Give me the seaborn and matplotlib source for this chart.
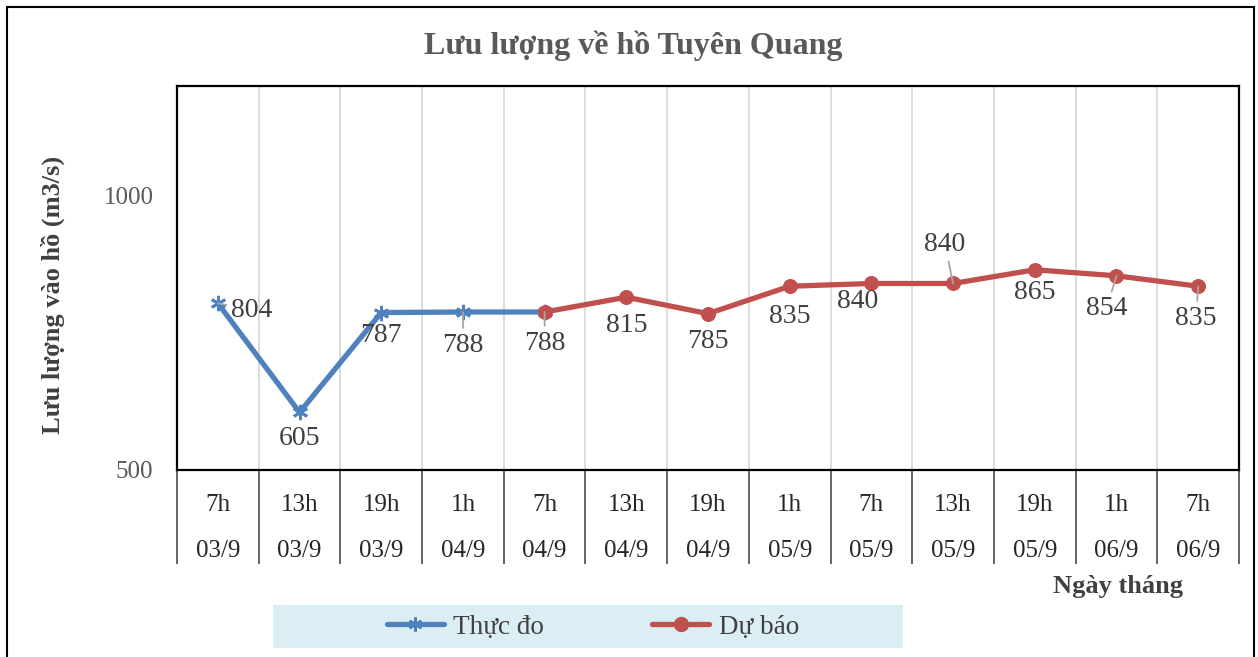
import matplotlib
matplotlib.use("Agg")
import matplotlib.pyplot as plt
import seaborn as sns
import numpy as np
import pandas as pd
from matplotlib.patches import Rectangle
from matplotlib.lines import Line2D

# dane
gio = ["7h", "13h", "19h", "1h", "7h", "13h", "19h", "1h", "7h", "13h", "19h", "1h", "7h"]
ngay = ["03/9", "03/9", "03/9", "04/9", "04/9", "04/9", "04/9", "05/9", "05/9", "05/9", "05/9", "06/9", "06/9"]
thuc_do = [804, 605, 787, 788, 788]
du_bao = [788, 815, 785, 835, 840, 840, 865, 854, 835]
du_bao_start = 4

# przesunięcia etykiet (piksele) i czy rysować linię odniesienia
etyk_dx = [34, 0, 0, 0, 0, 0, 0, 0, -14, -8, 0, -10, -2]
etyk_dy = [-7, -26, -23, -33, -31, -28, -28, -30, -18, 39, -23, -33, -32]
linia = [True, False, False, True, True, False, False, False, False, True, False, True, True]

df_td = pd.DataFrame({"x": np.arange(len(thuc_do)), "y": thuc_do})
df_db = pd.DataFrame({"x": np.arange(du_bao_start, du_bao_start + len(du_bao)), "y": du_bao})

sns.set_style("white")
plt.rcParams["font.family"] = ["Liberation Serif", "DejaVu Serif"]

fig = plt.figure(figsize=(12.58, 6.57), dpi=100)
ax = fig.add_axes([177 / 1258, 1 - 470 / 657, (1239 - 177) / 1258, (470 - 86) / 657])

niebieski = "#4F81BD"
czerwony = "#C0504D"

sns.lineplot(data=df_td, x="x", y="y", ax=ax, color=niebieski, lw=3.8,
             marker=(6, 2, 0), markersize=11, markeredgewidth=2,
             markeredgecolor=niebieski, zorder=3)
sns.lineplot(data=df_db, x="x", y="y", ax=ax, color=czerwony, lw=3.8,
             marker="o", markersize=10, markeredgecolor=czerwony, zorder=4)

# etykiety danych
wszystkie = thuc_do[:du_bao_start] + du_bao
for i, v in enumerate(wszystkie):
    props = dict(arrowstyle="-", color="#A6A6A6", lw=1.3, shrinkA=1, shrinkB=0) if linia[i] else None
    ax.annotate(str(v), xy=(i, v), xytext=(etyk_dx[i], etyk_dy[i]), textcoords="offset pixels",
                ha="center", va="center", fontsize=20, color="#404040",
                arrowprops=props, zorder=5)

n = len(gio)
ax.set_xlim(-0.5, n - 0.5)
ax.set_ylim(500, 1200)
ax.set_yticks([500, 1000])
ax.set_yticklabels(["500", "1000"], fontsize=18, color="#595959")
ax.tick_params(axis="y", length=0, pad=17)

ax.set_xticks(np.arange(n))
ax.set_xticklabels([g + "\n" + d for g, d in zip(gio, ngay)], fontsize=18,
                   color="#262626", linespacing=2.45)
ax.set_xticks(np.arange(-0.5, n, 1), minor=True)
ax.tick_params(axis="x", which="major", bottom=True, length=0, pad=17)
ax.tick_params(axis="x", which="minor", bottom=True, length=68, width=1.3,
               color="#595959", direction="out")
ax.grid(which="minor", axis="x", color="#D9D9D9", lw=1.3)
ax.grid(which="major", axis="both", visible=False)

for s in ax.spines.values():
    s.set_color("black")
    s.set_linewidth(1.6)

ax.set_xlabel("")
ax.set_ylabel("Lưu lượng vào hồ (m3/s)", fontsize=19, fontweight="bold", color="#404040")
ax.yaxis.set_label_coords(-112 / (1239 - 177), 0.5 - 17 / 384)

fig.text(633 / 1258, 1 - 46 / 657, "Lưu lượng về hồ Tuyên Quang", ha="center", va="center",
         fontsize=23, fontweight="bold", color="#595959")
fig.text(1118 / 1258, 1 - 586 / 657, "Ngày tháng", ha="center", va="center",
         fontsize=19, fontweight="bold", color="#404040")

# ramka całego rysunku
fig.patches.append(Rectangle((7 / 1258, -0.05), 1247 / 1258, 1 - 7 / 657 + 0.05,
                             transform=fig.transFigure, fill=False, edgecolor="black", lw=1.5))
# tło legendy
fig.patches.append(Rectangle((273 / 1258, 1 - 648 / 657), 630 / 1258, 43 / 657,
                             transform=fig.transFigure, facecolor="#DAEEF3", edgecolor="none"))

uchwyty = [
    Line2D([], [], color=niebieski, lw=3.8, marker=(6, 2, 0), markersize=10, markeredgewidth=2),
    Line2D([], [], color=czerwony, lw=3.8, marker="o", markersize=10),
]
fig.legend(uchwyty, ["Thực đo", "Dự báo"], loc="center", ncol=2, frameon=False,
           bbox_to_anchor=(593 / 1258, 1 - 627 / 657), fontsize=19.5, handlelength=2.1,
           handletextpad=0.35, columnspacing=4.0, labelcolor="#404040")

fig.savefig("out.png", dpi=100)
